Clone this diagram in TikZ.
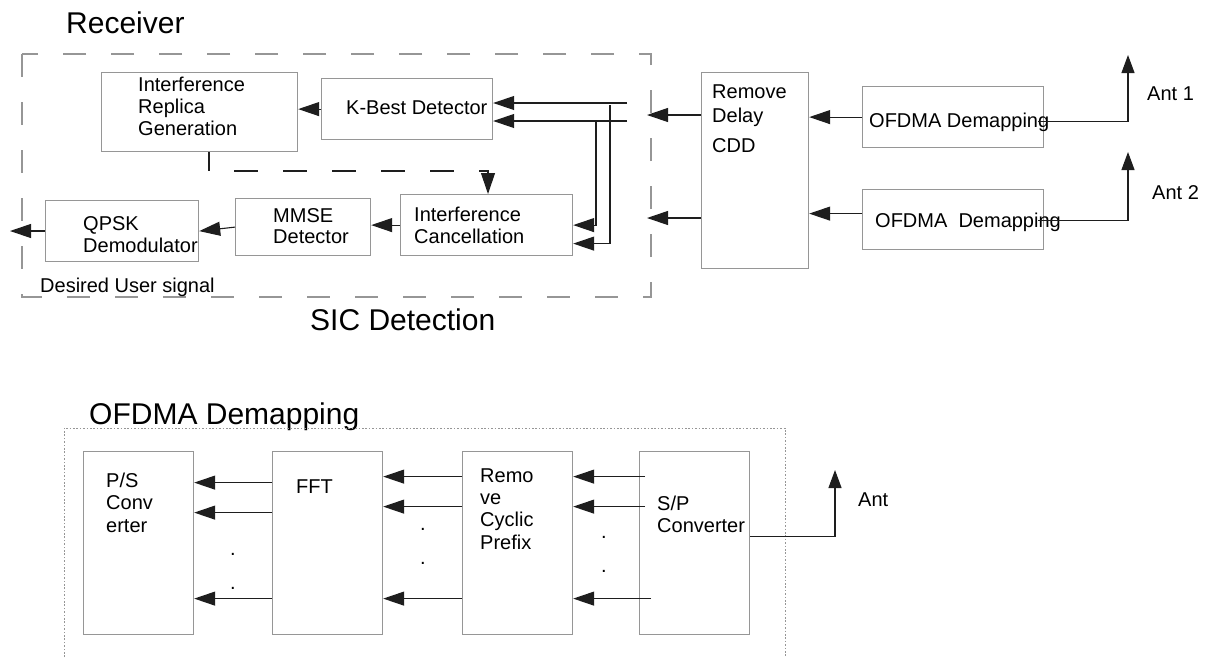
\documentclass[tikz,border=0pt]{standalone}
\usepackage{fontspec}
\setmainfont{Liberation Sans}
\usetikzlibrary{arrows.meta}
\definecolor{boxgray}{RGB}{150,150,150}
\definecolor{lin}{RGB}{30,30,30}
\newcommand\fst{\rule{0pt}{16pt}}
\begin{document}
\begin{tikzpicture}[x=1pt,y=-1pt,
  box/.style={draw=boxgray,line width=1.2pt,anchor=north west,inner sep=0pt},
  conn/.style={draw=lin,line width=1.1pt},
  arr/.style={conn,-{Triangle[length=21pt,width=14pt]}},
  arrant/.style={conn,-{Triangle[length=18pt,width=13pt]}},
  sm/.style={font=\fontsize{20}{22.3}\selectfont,inner sep=0pt,text=black},
  lbl/.style={sm,anchor=north west,align=left},
  one/.style={sm,anchor=base west},
  big/.style={font=\fontsize{30}{34}\selectfont,inner sep=0pt,anchor=base west},
  dotnode/.style={sm,anchor=center}]
\useasboundingbox (0,0) rectangle (1220,657);

% ---------- Receiver ----------
\node[big] (ttlrec) at (66,33) {Receiver};
\node[big] (ttlsic) at (310,330) {SIC Detection};
\draw[boxgray,line width=1.2pt,dash pattern=on 23pt off 25pt] (22,54) rectangle (651,297);

\node[box,minimum width=196pt,minimum height=79pt] (irg) at (101,72) {};
\node[lbl] (irgT) at (138,75) {\fst Interference\\Replica\\Generation};
\node[box,minimum width=171pt,minimum height=61pt] (kb) at (321,78) {};
\node[one] (kbT) at (346,114) {K-Best Detector};
\node[box,minimum width=153pt,minimum height=61pt] (qpsk) at (45,200) {};
\node[lbl] (qpskT) at (83,214) {\fst QPSK\\Demodulator};
\node[box,minimum width=135pt,minimum height=57pt] (mmse) at (235,198) {};
\node[lbl,font=\fontsize{20}{21}\selectfont] (mmseT) at (273,206) {\fst MMSE\\Detector};
\node[box,minimum width=172pt,minimum height=61pt] (ic) at (400,194) {};
\node[lbl,font=\fontsize{20}{22}\selectfont] (icT) at (414,205) {\fst Interference\\Cancellation};
\node[one] (dus) at (40,292) {Desired User signal};

\node[box,minimum width=107pt,minimum height=196pt] (rd) at (701,72) {};
\node[lbl,font=\fontsize{20}{24}\selectfont] (rdT) at (712,82) {\fst Remove\\Delay\\[6pt]CDD};
\node[box,minimum width=181pt,minimum height=61pt] (of1) at (862,86) {};
\node[one] (of1T) at (869,127) {OFDMA Demapping};
\node[box,minimum width=181pt,minimum height=60pt] (of2) at (862,189) {};
\node[one] (of2T) at (875,227) {OFDMA~~Demapping};
\node[one] (ant1T) at (1147,100) {Ant 1};
\node[one] (ant2T) at (1152,199) {Ant 2};

% connectors (top)
\draw[arr] (kb.west) -- (kb.west -| irg.east);
\coordinate (d1) at (209,171);
\coordinate (d2) at (488,171);
\draw[conn] (irg.south -| d1) -- (d1);
\draw[arr,dash pattern=on 24pt off 25pt,dash phase=24pt] (d1) -- (d2) -- (d2 |- ic.north);
\draw[arr] (ic.west) -- (ic.west -| mmse.east);
\draw[arr] (mmse.west) -- (qpsk.east);
\coordinate (out) at (10,231);
\draw[arr] (qpsk.west |- out) -- (out);

\coordinate (r1) at (647,115);
\coordinate (r2) at (647,218);
\draw[arr] (r1 -| rd.west) -- (r1);
\draw[arr] (r2 -| rd.west) -- (r2);
\coordinate (k1) at (627,103);
\coordinate (k2) at (627,121);
\draw[arr] (k1) -- (k1 -| kb.east);
\draw[arr] (k2) -- (k2 -| kb.east);
\coordinate (v1) at (610,105);
\draw[arr] (v1) |- ([yshift=-18.5pt]ic.east);
\coordinate (v2) at (560,121);
\coordinate (v2b) at (596,121);
\draw[arr] (v2) -- (v2b) |- (ic.east);

\draw[arr] (of1.west) -- (of1.west -| rd.east);
\draw[arr] ([yshift=6pt]of2.west) -- ([yshift=6pt]of2.west -| rd.east);
\coordinate (a1) at (1128,55);
\coordinate (a2) at (1128,152);
\draw[arrant] ([xshift=-6pt,yshift=-4.5pt]of1.east) -| (a1);
\draw[arrant] ([xshift=-6pt,yshift=-1pt]of2.east) -| (a2);

% ---------- OFDMA Demapping ----------
\node[big] (ttlofd) at (89,424) {OFDMA Demapping};
\draw[boxgray,line width=0.9pt,dash pattern=on 1.6pt off 1.8pt] (64,657) -- (64,428) -- (785,428) -- (785,657);

\node[box,minimum width=110pt,minimum height=183pt] (ps) at (83,451) {};
\node[lbl,font=\fontsize{20}{22.5}\selectfont] (psT) at (106,471) {\fst P/S\\Conv\\erter};
\node[box,minimum width=110pt,minimum height=183pt] (fft) at (272,451) {};
\node[one] (fftT) at (296,493) {FFT};
\node[box,minimum width=110pt,minimum height=183pt] (rcp) at (462,451) {};
\node[lbl] (rcpT) at (480,466) {\fst Remo\\ve\\Cyclic\\Prefix};
\node[box,minimum width=110pt,minimum height=183pt] (sp) at (639,451) {};
\node[lbl,font=\fontsize{20}{22}\selectfont] (spT) at (657,494) {\fst S/P\\Converter};
\node[one] (antT) at (858,506) {Ant};

\foreach \s in {60.5,30.5,-55.5}
  \draw[arr] ([yshift=\s pt]fft.west) -- ([yshift=\s pt]ps.east);
\foreach \s in {66.5,36.5,-55.5}
  \draw[arr] ([yshift=\s pt]rcp.west) -- ([yshift=\s pt]fft.east);
\draw[arr] ([xshift=6pt,yshift=66.5pt]sp.west) -- ([yshift=66.5pt]rcp.east);
\draw[arr] ([xshift=6pt,yshift=36.5pt]sp.west) -- ([yshift=36.5pt]rcp.east);
\draw[arr] ([xshift=12pt,yshift=-55.5pt]sp.west) -- ([yshift=-55.5pt]rcp.east);

\node[dotnode] (dt1) at (233,554) {.};
\node[dotnode] (dt2) at (233,588) {.};
\node[dotnode] (dt3) at (423,529) {.};
\node[dotnode] (dt4) at (423,563) {.};
\node[dotnode] (dt5) at (604,537) {.};
\node[dotnode] (dt6) at (604,571) {.};

\coordinate (ant) at (835,470);
\draw[arrant] ([yshift=6.5pt]sp.east) -| (ant);
\end{tikzpicture}
\end{document}
